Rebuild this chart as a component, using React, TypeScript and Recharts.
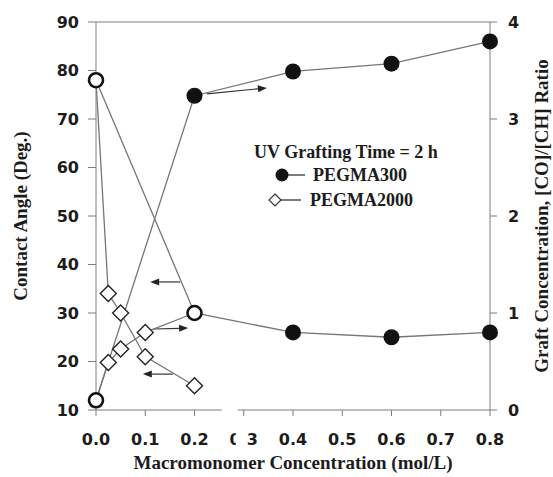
import { LineChart, Line, XAxis, YAxis, ReferenceLine, Legend } from "recharts"

// PEGMA300 (filled circles)
const conc300 = [0, 0.2, 0.4, 0.6, 0.8]
const angle300 = [78, 30, 26, 25, 26]
const ratio300 = [0.1, 3.24, 3.49, 3.57, 3.8]

// PEGMA2000 (open diamonds)
const conc2000 = [0, 0.025, 0.05, 0.1, 0.2]
const angle2000 = [78, 34, 30, 21, 15]
const ratio2000 = [0.1, 0.49, 0.63, 0.8, 1.0]

const xTicks = [0, 0.1, 0.2, 0.3, 0.4, 0.5, 0.6, 0.7, 0.8]
const angleTicks = [10, 20, 30, 40, 50, 60, 70, 80, 90]
const ratioTicks = [0, 1, 2, 3, 4]

// arrows telling which axis a curve belongs to: [x1, y1, x2, y2] in (mol/L, deg.)
const arrows = [
  [0.225, 75.2, 0.347, 76.4],
  [0.171, 36.4, 0.11, 36.4],
  [0.116, 26.7, 0.187, 26.9],
  [0.156, 17.4, 0.095, 17.4],
]

const AXIS = "#7d7d7d"
const CURVE = "#767676"
const INK = "#1c1c1c"
const SANS = "DejaVu Sans, sans-serif"
const SERIF = "Liberation Serif, Times New Roman, serif"

// both y axes are linear, 10..90 deg maps onto 0..4
const ratioToAngle = (r: number) => 10 + r * 20

type Pt = { x: number; y: number; a: number }

const pts = (xs: number[], ys: number[], toAngle: (v: number) => number): Pt[] =>
  xs.map((x, i) => ({ x, y: ys[i], a: toAngle(ys[i]) }))

const ca300 = pts(conc300, angle300, (v) => v)
const gc300 = pts(conc300, ratio300, ratioToAngle)
const ca2000 = pts(conc2000, angle2000, (v) => v)
const gc2000 = pts(conc2000, ratio2000, ratioToAngle)

const overlaps = (p: Pt, others: Pt[]) =>
  others.some((o) => Math.abs(o.x - p.x) < 1e-6 && Math.abs(o.a - p.a) < 0.6)

const all300 = [...ca300, ...gc300]
const all2000 = [...ca2000, ...gc2000]
const mark = (list: Pt[], others: Pt[]) => list.map((p) => ({ ...p, shared: overlaps(p, others) }))

const ca300Data = mark(ca300, all2000)
const gc300Data = mark(gc300, all2000)
const ca2000Data = mark(ca2000, all300)
const gc2000Data = mark(gc2000, all300)

const CircleDot = (props: any) => {
  const { cx, cy, payload, index } = props
  if (cx == null || cy == null) return <g key={index} />
  if (payload.shared)
    return <circle key={index} cx={cx} cy={cy} r={7} fill="#fff" stroke="#111" strokeWidth={2.6} />
  return <circle key={index} cx={cx} cy={cy} r={8} fill="#111" />
}

const DiamondDot = (props: any) => {
  const { cx, cy, payload, index } = props
  if (cx == null || cy == null || payload.shared) return <g key={index} />
  const d = 8
  return (
    <polygon
      key={index}
      points={`${cx},${cy - d} ${cx + d},${cy} ${cx},${cy + d} ${cx - d},${cy}`}
      fill="#fff"
      stroke="#222"
      strokeWidth={1.4}
    />
  )
}

const Arrow = (props: any) => {
  const { x1, y1, x2, y2 } = props
  const ang = Math.atan2(y2 - y1, x2 - x1)
  const c = Math.cos(ang)
  const s = Math.sin(ang)
  const bx = x2 - 9 * c
  const by = y2 - 9 * s
  return (
    <g>
      <line x1={x1} y1={y1} x2={bx} y2={by} stroke="#333" strokeWidth={1.2} />
      <polygon
        points={`${x2},${y2} ${bx - 3.5 * s},${by + 3.5 * c} ${bx + 3.5 * s},${by - 3.5 * c}`}
        fill="#222"
      />
    </g>
  )
}

const XTick = (props: any) => {
  const { x, y, payload } = props
  const broken = Math.abs(payload.value - 0.3) < 1e-9
  return (
    <g>
      <text x={x} y={y} dy={13} textAnchor="middle" fontFamily={SANS} fontWeight="bold" fontSize={16} fill={INK}>
        {payload.value.toFixed(1)}
      </text>
      {broken && (
        <>
          <rect x={x - 22} y={y - 28} width={16} height={12} fill="#fff" />
          <rect x={x - 8} y={y - 2} width={11} height={18} fill="#fff" />
        </>
      )}
    </g>
  )
}

const LegendBox = () => (
  <div style={{ position: "relative", width: 216, height: 76, fontFamily: SERIF, fontWeight: "bold", fontSize: 18, color: INK }}>
    <div style={{ position: "absolute", left: 0, top: 4, width: 216, lineHeight: "20px", textAlign: "center", whiteSpace: "nowrap" }}>
      UV Grafting Time = 2 h
    </div>
    <svg style={{ position: "absolute", left: 34, top: 27 }} width={36} height={20}>
      <line x1={10} y1={10} x2={33} y2={10} stroke="#333" strokeWidth={1.3} />
      <circle cx={10} cy={10} r={6.5} fill="#111" />
    </svg>
    <div style={{ position: "absolute", left: 75, top: 27, lineHeight: "20px", whiteSpace: "nowrap" }}>PEGMA300</div>
    <svg style={{ position: "absolute", left: 29, top: 52 }} width={36} height={20}>
      <line x1={8} y1={10} x2={34} y2={10} stroke="#333" strokeWidth={1.3} />
      <polygon points="8,4 14,10 8,16 2,10" fill="#fff" stroke="#333" strokeWidth={1.2} />
    </svg>
    <div style={{ position: "absolute", left: 72, top: 52, lineHeight: "20px", whiteSpace: "nowrap" }}>PEGMA2000</div>
  </div>
)

const sansTick = { fontFamily: SANS, fontWeight: "bold", fontSize: 16, fill: INK }
const serifTitle = { fontFamily: SERIF, fontWeight: "bold", fontSize: 19, fill: INK }

export default function App() {
  return (
    <div style={{ position: "absolute", left: 0, top: 0, background: "#fff" }}>
      <LineChart width={553} height={477} margin={{ top: 22, right: 0, bottom: 0, left: 0 }}>
        <XAxis
          dataKey="x"
          type="number"
          domain={[0, 0.8]}
          ticks={xTicks}
          tick={<XTick />}
          tickSize={6}
          tickMargin={16}
          height={67}
          stroke={AXIS}
          label={{ value: "Macromonomer Concentration (mol/L)", position: "center", dy: 19, ...serifTitle }}
        />
        <YAxis
          yAxisId="left"
          type="number"
          domain={[10, 90]}
          ticks={angleTicks}
          width={96}
          tickSize={8}
          tickMargin={9}
          stroke={AXIS}
          tick={sansTick}
          label={{ value: "Contact Angle (Deg.)", angle: -90, position: "center", dx: -28, ...serifTitle }}
        />
        <YAxis
          yAxisId="right"
          orientation="right"
          type="number"
          domain={[0, 4]}
          ticks={ratioTicks}
          width={63}
          tickSize={7}
          tickMargin={11}
          stroke={AXIS}
          tick={sansTick}
          label={{ value: "Graft Concentration, [CO]/[CH] Ratio", angle: -90, position: "center", dx: 20, ...serifTitle }}
        />
        <ReferenceLine yAxisId="left" y={90} stroke={AXIS} />
        {arrows.map(([x1, y1, x2, y2], i) => (
          <ReferenceLine
            key={`arrow-${i}`}
            yAxisId="left"
            segment={[{ x: x1, y: y1 }, { x: x2, y: y2 }]}
            shape={<Arrow />}
          />
        ))}
        <Line data={ca2000Data} dataKey="y" yAxisId="left" stroke={CURVE} strokeWidth={1.3} dot={DiamondDot} isAnimationActive={false} />
        <Line data={gc2000Data} dataKey="y" yAxisId="right" stroke={CURVE} strokeWidth={1.3} dot={DiamondDot} isAnimationActive={false} />
        <Line data={ca300Data} dataKey="y" yAxisId="left" stroke={CURVE} strokeWidth={1.3} dot={CircleDot} isAnimationActive={false} />
        <Line data={gc300Data} dataKey="y" yAxisId="right" stroke={CURVE} strokeWidth={1.3} dot={CircleDot} isAnimationActive={false} />
        <Legend
          layout="vertical"
          align="center"
          verticalAlign="middle"
          wrapperStyle={{ left: 238, top: 138, width: 216, height: 76 }}
          content={() => <LegendBox />}
        />
      </LineChart>
    </div>
  )
}
